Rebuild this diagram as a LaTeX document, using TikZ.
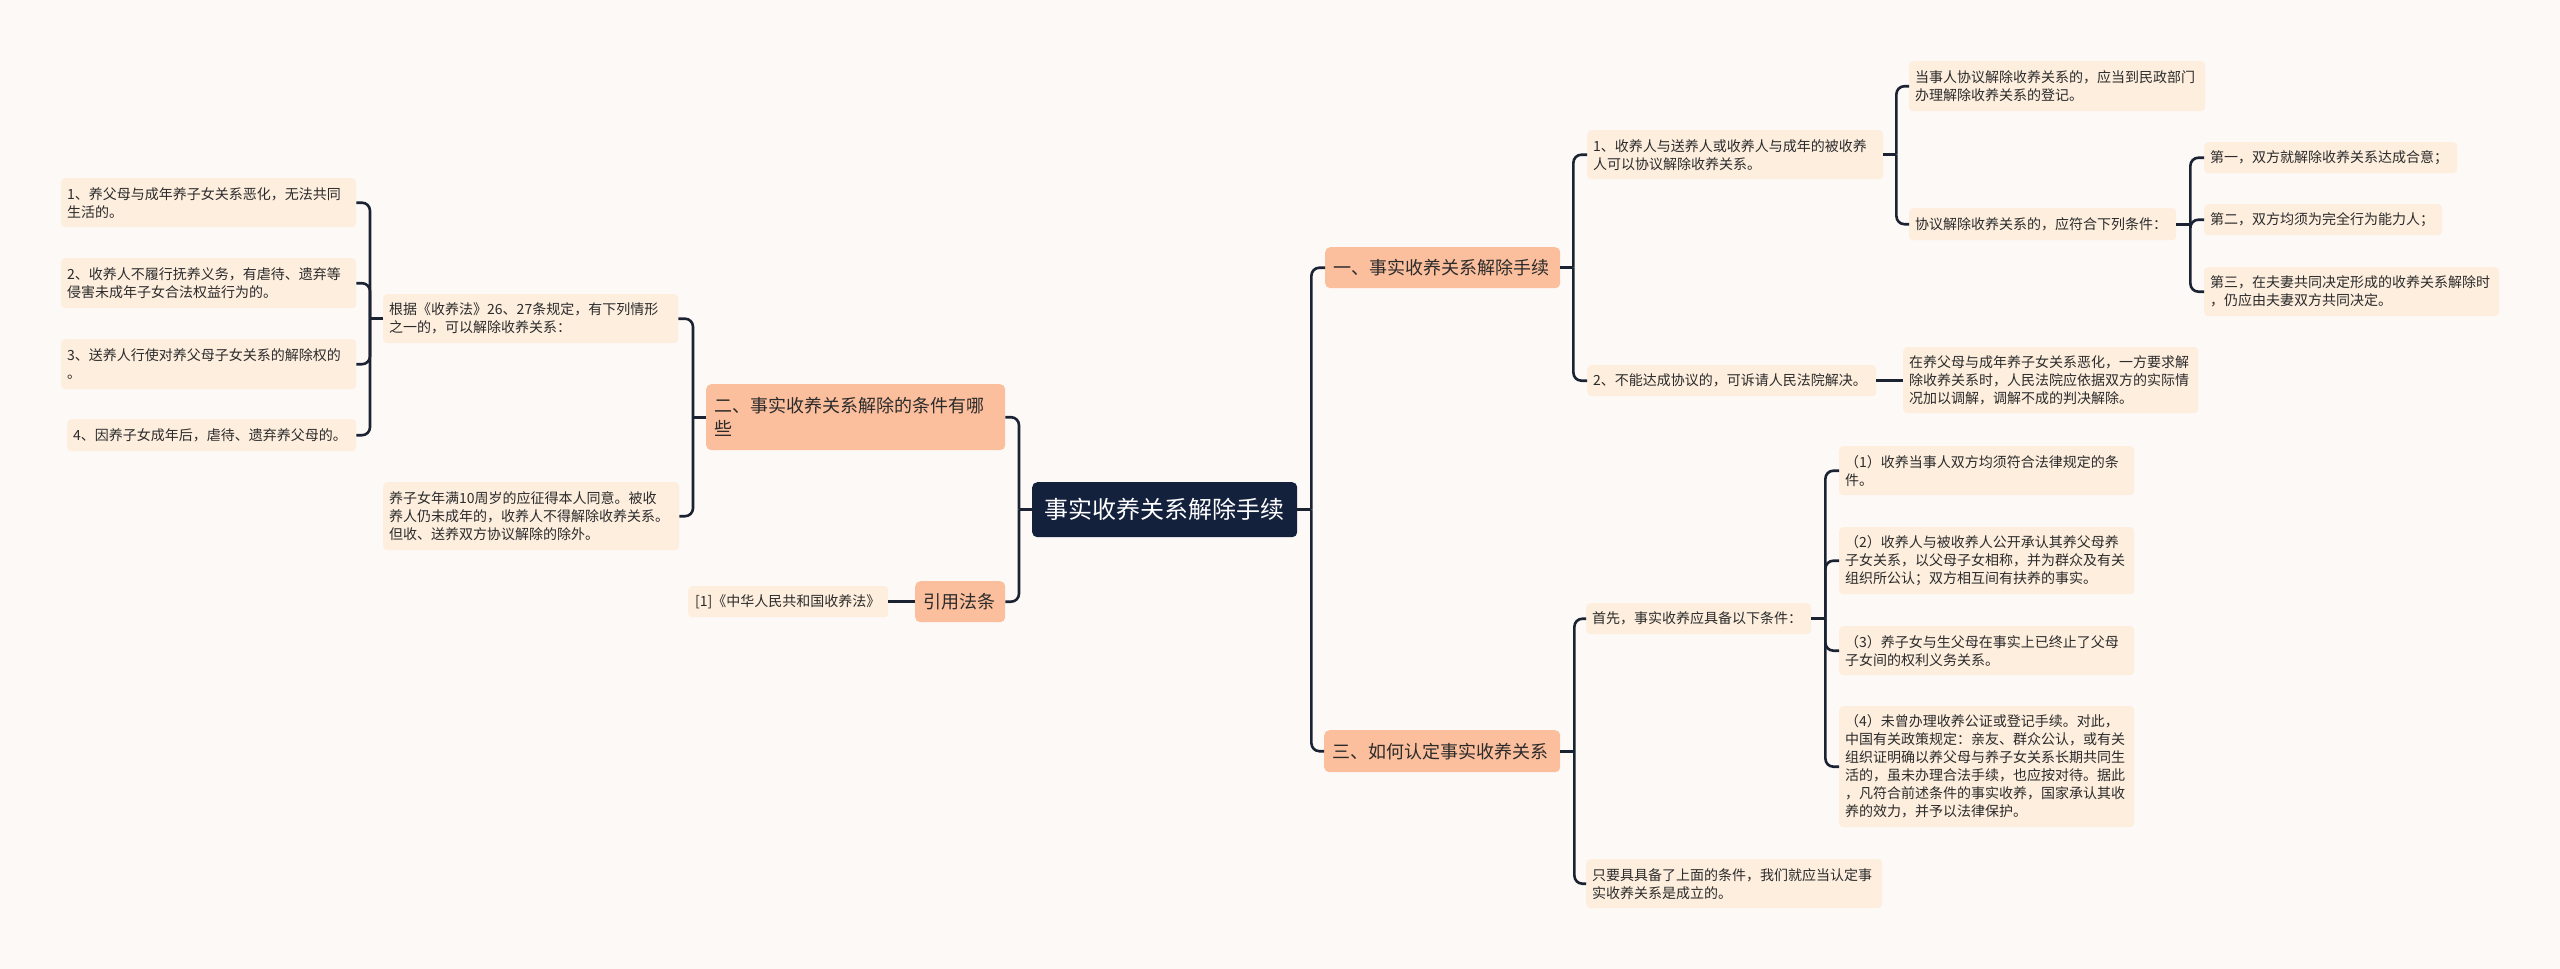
\documentclass[tikz,border=0pt]{standalone}
\usepackage{fontspec}
\newfontfamily\cjk{Noto Sans CJK SC}
\usetikzlibrary{calc}
\definecolor{bgc}{HTML}{FDF9F7}
\definecolor{leafc}{HTML}{FDEEDE}
\definecolor{salmon}{HTML}{FCBF9D}
\definecolor{rootc}{HTML}{14213D}
\definecolor{linec}{HTML}{1B2333}
\definecolor{txt}{HTML}{2B2B2B}
\tikzset{
  leaf/.style={fill=leafc, rounded corners=4pt, text=txt, align=left, inner xsep=6pt, inner ysep=0pt, anchor=north west, font=\cjk\fontsize{14}{18}\selectfont},
  lvone/.style={fill=salmon, rounded corners=5pt, text=txt, align=left, inner xsep=8pt, inner ysep=0pt, anchor=north west, font=\cjk\fontsize{18}{23}\selectfont},
  rootbox/.style={fill=rootc, rounded corners=5pt, text=white, align=center, inner sep=0pt, anchor=north west, font=\cjk\fontsize{24}{28}\selectfont},
  conn/.style={draw=linec, line width=2.6pt, rounded corners=8pt}
}
\begin{document}
\begin{tikzpicture}[x=1pt,y=-1pt]
\fill[bgc] (0,0) rectangle (2560,969);
\useasboundingbox (0,0) rectangle (2560,969);
% root
\node[rootbox, minimum width=265pt, minimum height=55pt] (root) at (1032,482) {事实收养关系解除手续};
% level one
\node[lvone, text width=219pt, minimum height=41pt] (n1) at (1325,247) {一、事实收养关系解除手续};
\node[lvone, text width=220pt, minimum height=42pt] (n3) at (1324,730) {三、如何认定事实收养关系};
\node[lvone, text width=283pt, minimum height=66pt] (n2) at (706,384) {二、事实收养关系解除的条件有哪\\些};
\node[lvone, text width=74pt, minimum height=41pt] (cite) at (915,581) {引用法条};
% left leaves
\node[leaf, text width=283pt, minimum height=49pt] (gj) at (383,294) {根据《收养法》26、27条规定，有下列情形\\之一的，可以解除收养关系：};
\node[leaf, text width=284pt, minimum height=68pt] (yz) at (383,482) {养子女年满10周岁的应征得本人同意。被收\\养人仍未成年的，收养人不得解除收养关系。\\但收、送养双方协议解除的除外。};
\node[leaf, text width=283pt, minimum height=49pt] (l1) at (61,178) {1、养父母与成年养子女关系恶化，无法共同\\生活的。};
\node[leaf, text width=283pt, minimum height=50pt] (l2) at (61,258) {2、收养人不履行抚养义务，有虐待、遗弃等\\侵害未成年子女合法权益行为的。};
\node[leaf, text width=283pt, minimum height=50pt] (l3) at (61,339) {3、送养人行使对养父母子女关系的解除权的\\。};
\node[leaf, text width=277pt, minimum height=32pt] (l4) at (67,419) {4、因养子女成年后，虐待、遗弃养父母的。};
\node[leaf, text width=186pt, inner xsep=7pt, minimum height=31pt] (cite1) at (688,586) {[1]《中华人民共和国收养法》};
% right branch one
\node[leaf, text width=284pt, minimum height=49pt] (r11) at (1587,130) {1、收养人与送养人或收养人与成年的被收养\\人可以协议解除收养关系。};
\node[leaf, text width=277pt, minimum height=31pt] (r12) at (1587,365) {2、不能达成协议的，可诉请人民法院解决。};
\node[leaf, text width=284pt, minimum height=50pt] (r111) at (1909,61) {当事人协议解除收养关系的，应当到民政部门\\办理解除收养关系的登记。};
\node[leaf, text width=255pt, minimum height=32pt] (r112) at (1909,208) {协议解除收养关系的，应符合下列条件：};
\node[leaf, text width=241pt, minimum height=31pt] (f1) at (2204,142) {第一，双方就解除收养关系达成合意；};
\node[leaf, text width=226pt, minimum height=31pt] (f2) at (2204,204) {第二，双方均须为完全行为能力人；};
\node[leaf, text width=283pt, minimum height=49pt] (f3) at (2204,267) {第三，在夫妻共同决定形成的收养关系解除时\\，仍应由夫妻双方共同决定。};
\node[leaf, text width=283pt, minimum height=66pt] (r121) at (1903,347) {在养父母与成年养子女关系恶化，一方要求解\\除收养关系时，人民法院应依据双方的实际情\\况加以调解，调解不成的判决解除。};
% right branch three
\node[leaf, text width=213pt, minimum height=31pt] (r31) at (1586,603) {首先，事实收养应具备以下条件：};
\node[leaf, text width=284pt, minimum height=49pt] (r32) at (1586,859) {只要具具备了上面的条件，我们就应当认定事\\实收养关系是成立的。};
\node[leaf, text width=283pt, minimum height=49pt] (c1) at (1839,446) {（1）收养当事人双方均须符合法律规定的条\\件。};
\node[leaf, text width=283pt, minimum height=67pt] (c2) at (1839,527) {（2）收养人与被收养人公开承认其养父母养\\子女关系，以父母子女相称，并为群众及有关\\组织所公认；双方相互间有扶养的事实。};
\node[leaf, text width=283pt, minimum height=49pt] (c3) at (1839,626) {（3）养子女与生父母在事实上已终止了父母\\子女间的权利义务关系。};
\node[leaf, text width=283pt, minimum height=121pt] (c4) at (1839,706) {（4）未曾办理收养公证或登记手续。对此，\\中国有关政策规定：亲友、群众公认，或有关\\组织证明确以养父母与养子女关系长期共同生\\活的，虽未办理合法手续，也应按对待。据此\\，凡符合前述条件的事实收养，国家承认其收\\养的效力，并予以法律保护。};
% junctions
\coordinate (jR) at ($(root.east)+(14pt,0)$);
\coordinate (jL) at ($(root.west)+(-13pt,0)$);
\coordinate (j2) at ($(n2.west)+(-13pt,0)$);
\coordinate (jg) at ($(gj.west)+(-13pt,0)$);
\coordinate (j1) at ($(n1.east)+(13pt,0)$);
\coordinate (j11) at ($(r11.east)+(13pt,0)$);
\coordinate (j112) at ($(r112.east)+(14pt,0)$);
\coordinate (j3) at ($(n3.east)+(14pt,0)$);
\coordinate (j31) at ($(r31.east)+(14pt,0)$);
% connectors
\draw[conn] (root.east) -- (jR);
\draw[conn] (jR) |- (n1.west);
\draw[conn] (jR) |- (n3.west);
\draw[conn] (root.west) -- (jL);
\draw[conn] (jL) |- (n2.east);
\draw[conn] (jL) |- (cite.east);
\draw[conn] (cite.west) -- (cite1.east);
\draw[conn] (n2.west) -- (j2);
\draw[conn] (j2) |- (gj.east);
\draw[conn] (j2) |- (yz.east);
\draw[conn] (gj.west) -- (jg);
\draw[conn] (jg) |- (l1.east);
\draw[conn] (jg) |- (l2.east);
\draw[conn] (jg) |- (l3.east);
\draw[conn] (jg) |- (l4.east);
\draw[conn] (n1.east) -- (j1);
\draw[conn] (j1) |- (r11.west);
\draw[conn] (j1) |- (r12.west);
\draw[conn] (r11.east) -- (j11);
\draw[conn] (j11) |- (r111.west);
\draw[conn] (j11) |- (r112.west);
\draw[conn] (r112.east) -- (j112);
\draw[conn] (j112) |- (f1.west);
\draw[conn] (j112) |- (f2.west);
\draw[conn] (j112) |- (f3.west);
\draw[conn] (r12.east) -- (r121.west |- r12.east);
\draw[conn] (n3.east) -- (j3);
\draw[conn] (j3) |- (r31.west);
\draw[conn] (j3) |- (r32.west);
\draw[conn] (r31.east) -- (j31);
\draw[conn] (j31) |- (c1.west);
\draw[conn] (j31) |- (c2.west);
\draw[conn] (j31) |- (c3.west);
\draw[conn] (j31) |- (c4.west);
\end{tikzpicture}
\end{document}
